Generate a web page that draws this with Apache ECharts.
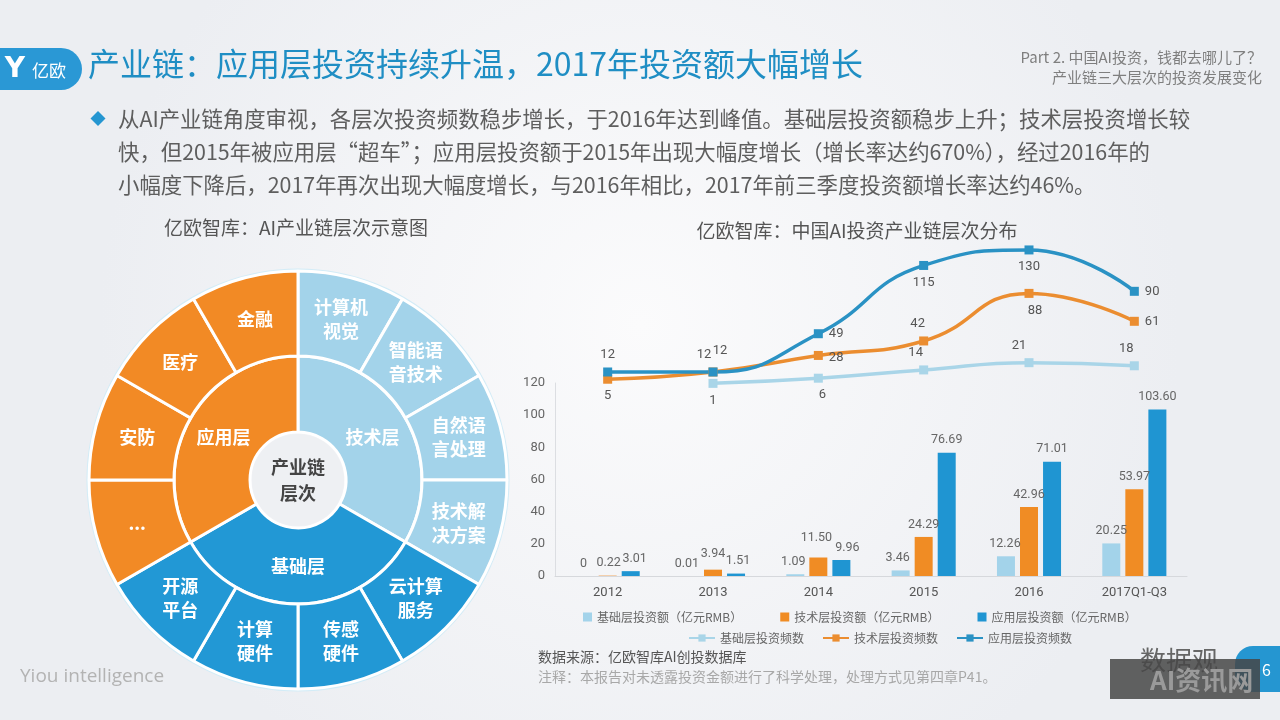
<!DOCTYPE html>
<html><head><meta charset="utf-8">
<script src="https://cdn.jsdelivr.net/npm/echarts@6/dist/echarts.min.js"></script>
<style>html,body{margin:0;padding:0;background:#f1f2f5;}#c{width:1280px;height:720px;}</style>
</head><body><div id="c"></div>
<script>
// ---------- data ----------
const years = ['2012', '2013', '2014', '2015', '2016', '2017Q1-Q3'];
const baseAmount = [0, 0.01, 1.09, 3.46, 12.26, 20.25];
const techAmount = [0.22, 3.94, 11.50, 24.29, 42.96, 53.97];
const appAmount = [3.01, 1.51, 9.96, 76.69, 71.01, 103.60];
const baseCount = [null, 1, 6, 14, 21, 18];
const techCount = [5, 12, 28, 42, 88, 61];
const appCount = [12, 12, 49, 115, 130, 90];
const yTickStep = 20;
const yTickMax = 120;

const barNames = ['基础层投资额（亿元RMB）', '技术层投资额（亿元RMB）', '应用层投资额（亿元RMB）'];
const lineNames = ['基础层投资频数', '技术层投资频数', '应用层投资频数'];

const layerNames = ['技术层', '基础层', '应用层'];
const techItems = ['计算机\n视觉', '智能语\n音技术', '自然语\n言处理', '技术解\n决方案'];
const baseItems = ['云计算\n服务', '传感\n硬件', '计算\n硬件', '开源\n平台'];
const appItems = ['...', '安防', '医疗', '金融'];

// ---------- styles ----------
const F = "'Noto Sans CJK SC','Noto Sans',sans-serif";
const FN = "Roboto,'Noto Sans',sans-serif";
const C_LIGHT = '#a3d3ea', C_ORANGE = '#f28a25', C_BLUE = '#2298d5';
const C_LINE_APP = '#2a92c4', C_LINE_TECH = '#eb8d30', C_LINE_BASE = '#a9d5e8';

const layerColor = [C_LIGHT, C_BLUE, C_ORANGE];
const layerItems = [techItems, baseItems, appItems];
const sunData = layerNames.map((n, i) => ({
  name: n,
  itemStyle: { color: layerColor[i] },
  children: layerItems[i].map(c => ({ name: c, value: 1, itemStyle: { color: layerColor[i] } }))
}));

// label placement styles for line points
const appPos = ['top', 'top', 'right', 'bottom', 'bottom', 'right'];
const appOff = [[0, 0], [-9, 0], [0, 0], [0, 0], [0, 0], [0, 0]];
const techPos = ['bottom', 'top', 'right', 'top', 'bottom', 'right'];
const techOff = [[0, 0], [7, -4], [0, 2], [-6, 0], [6, 0], [0, 0]];
const basePos = ['bottom', 'bottom', 'bottom', 'top', 'top', 'top'];
const baseOff = [[0, 0], [0, 0], [4, 0], [-8, 0], [-10, 0], [-8, 0]];
// label nudges for bars
const baseBarOff = [[-1, 0], [-3, 0], [-2, 0], [-3, 0], [-1, 0], [0, 0]];
const techBarOff = [[1, 0], [0, -3], [-2, -7], [0, 0], [0, 0], [0, 0]];
const appBarOff = [[4, 0], [2, 0], [6, 0], [0, 0], [0, 0], [0, 0]];

function lineData(vals, pos, off) {
  return vals.map((v, i) => v == null ? '-' : ({ value: v, label: { position: pos[i], offset: off[i] } }));
}
function barSeries(name, vals, color, off) {
  return {
    type: 'bar', name, xAxisIndex: 0, yAxisIndex: 0,
    data: vals.map((v, i) => ({ value: v, label: { offset: off[i] } })),
    barWidth: 18, barGap: '28%',
    itemStyle: { color },
    label: { show: true, position: 'top', distance: 6, color: '#666', fontSize: 12.5, fontFamily: FN,
      formatter: p => p.value === 0 ? '0' : p.value.toFixed(2) }
  };
}
function lineSeries(name, vals, color, pos, off) {
  return {
    type: 'line', name, data: lineData(vals, pos, off), xAxisIndex: 1, yAxisIndex: 1,
    smooth: 0.5, symbol: 'rect', symbolSize: 9,
    lineStyle: { color, width: 3.5 }, itemStyle: { color },
    label: { show: true, color: '#555', fontSize: 13, fontFamily: FN, distance: 6 }
  };
}

const bodyLines = [
  '从AI产业链角度审视，各层次投资频数稳步增长，于2016年达到峰值。基础层投资额稳步上升；技术层投资增长较',
  '快，但2015年被应用层“超车”；应用层投资额于2015年出现大幅度增长（增长率达约670%），经过2016年的',
  '小幅度下降后，2017年再次出现大幅度增长，与2016年相比，2017年前三季度投资额增长率达约46%。'
];

const graphics = [
  // logo pill
  { type: 'rect', shape: { x: -30, y: 48, width: 112, height: 42, r: 21 }, style: { fill: '#2a98d5' } },
  { type: 'text', x: 15, y: 70, style: { text: 'Y', fill: '#fff', font: "bold 28px 'DejaVu Sans'", align: 'center', verticalAlign: 'middle' } },
  { type: 'text', x: 32, y: 71, style: { text: '亿欧', fill: '#fff', font: '17px ' + F, verticalAlign: 'middle' } },
  // title
  { type: 'text', x: 88, y: 64, style: { text: '产业链：应用层投资持续升温，2017年投资额大幅增长', fill: '#1f8ec4', font: '32px ' + F, verticalAlign: 'middle' } },
  { type: 'text', x: 1262, y: 57, style: { text: 'Part 2. 中国AI投资，钱都去哪儿了？', fill: '#7f7f7f', font: '15px ' + F, align: 'right', verticalAlign: 'middle' } },
  { type: 'text', x: 1262, y: 77, style: { text: '产业链三大层次的投资发展变化', fill: '#7f7f7f', font: '15px ' + F, align: 'right', verticalAlign: 'middle' } },
  // bullet
  { type: 'polygon', shape: { points: [[98, 111], [105.5, 118.5], [98, 126], [90.5, 118.5]] }, style: { fill: '#2596d1' } },
  ...bodyLines.map((t, i) => ({ type: 'text', x: 118, y: 119 + i * 33, style: { text: t, fill: '#5e5e5e', font: '21.4px ' + F, verticalAlign: 'middle' } })),
  // subtitles
  { type: 'text', x: 296, y: 228, style: { text: '亿欧智库：AI产业链层次示意图', fill: '#555', font: '19px ' + F, align: 'center', verticalAlign: 'middle' } },
  { type: 'text', x: 857, y: 231, style: { text: '亿欧智库：中国AI投资产业链层次分布', fill: '#555', font: '19px ' + F, align: 'center', verticalAlign: 'middle' } },
  // sources
  { type: 'text', x: 538, y: 657, style: { text: '数据来源：亿欧智库AI创投数据库', fill: '#555', font: '14px ' + F, verticalAlign: 'middle' } },
  { type: 'text', x: 538, y: 677, style: { text: '注释：本报告对未透露投资金额进行了科学处理，处理方式见第四章P41。', fill: '#a8a8a8', font: '14px ' + F, verticalAlign: 'middle' } },
  { type: 'text', x: 20, y: 677, style: { text: 'Yiou intelligence', fill: '#b3b3b3', font: "19px 'Open Sans'", verticalAlign: 'middle' } },
  // outer glow ring of sunburst
  { type: 'circle', shape: { cx: 298, cy: 480, r: 210 }, style: { fill: 'none', stroke: '#d3ecf7', lineWidth: 3 }, z: -1 },
  // page tab and watermark
  { type: 'rect', shape: { x: 1235, y: 646, width: 70, height: 46, r: 18 }, style: { fill: '#2596d1' } },
  { type: 'text', x: 1262, y: 670, style: { text: '6', fill: '#fff', font: '16px ' + F, verticalAlign: 'middle' } },
  { type: 'text', x: 1140, y: 660, style: { text: '数据观', fill: '#666', font: '26px ' + F, verticalAlign: 'middle' } },
  { type: 'rect', shape: { x: 1110, y: 659, width: 150, height: 40 }, style: { fill: 'rgba(70,70,70,0.85)' } },
  { type: 'text', x: 1150, y: 680, style: { text: 'AI资讯网', fill: '#9a9a9a', font: 'bold 26px ' + F, verticalAlign: 'middle' } }
];

const option = {
  backgroundColor: { type: 'radial', x: 0.5, y: 0.45, r: 0.75,
    colorStops: [{ offset: 0, color: '#fbfbfc' }, { offset: 1, color: '#eceef2' }] },
  animation: false,
  textStyle: { fontFamily: F },
  graphic: graphics,
  legend: [
    { data: barNames, left: 578, top: 606, icon: 'rect', itemWidth: 9, itemHeight: 9, itemGap: 38,
      textStyle: { color: '#666', fontSize: 12, fontFamily: F } },
    { data: lineNames, left: 683, top: 627, itemWidth: 26, itemHeight: 9, itemGap: 18,
      textStyle: { color: '#666', fontSize: 12, fontFamily: F } }
  ],
  grid: [
    { left: 555, top: 383, width: 632, height: 193 },
    { left: 555, top: 239.6, width: 632, height: 144.8 }
  ],
  xAxis: [
    { type: 'category', data: years, gridIndex: 0,
      axisLine: { lineStyle: { color: '#d6d8dc' } }, axisTick: { show: false },
      axisLabel: { color: '#555', fontSize: 13, margin: 10, fontFamily: FN } },
    { type: 'category', data: years, gridIndex: 1, show: false }
  ],
  yAxis: [
    { type: 'value', gridIndex: 0, min: 0, max: yTickMax, interval: yTickStep,
      axisLine: { show: true, lineStyle: { color: '#dcdee2' } }, axisTick: { show: false },
      splitLine: { show: false }, axisLabel: { color: '#666', fontSize: 13, margin: 10, fontFamily: FN } },
    { type: 'value', gridIndex: 1, min: 0, max: 140, show: false, splitLine: { show: false } }
  ],
  series: [
    {
      type: 'sunburst', center: [298, 480], radius: [48, 209], startAngle: 90,
      nodeClick: false, data: sunData,
      emphasis: { focus: 'none' },
      itemStyle: { borderColor: '#fff', borderWidth: 3 },
      label: { rotate: 0, color: '#fff', fontSize: 18, fontWeight: 'bold', lineHeight: 24, fontFamily: F },
      levels: [{}, { r0: 48, r: 124 }, { r0: 124, r: 209 }]
    },
    {
      type: 'pie', center: [298, 480], radius: [0, 46], silent: true,
      data: [{ value: 1, name: '产业链\n层次' }],
      itemStyle: { color: '#eef0f3' },
      label: { position: 'center', color: '#444', fontSize: 18, fontWeight: 'bold', lineHeight: 26, fontFamily: F },
      labelLine: { show: false }
    },
    barSeries(barNames[0], baseAmount, C_LIGHT, baseBarOff),
    barSeries(barNames[1], techAmount, '#f08c24', techBarOff),
    barSeries(barNames[2], appAmount, '#1f95d2', appBarOff),
    lineSeries(lineNames[0], baseCount, C_LINE_BASE, basePos, baseOff),
    lineSeries(lineNames[1], techCount, C_LINE_TECH, techPos, techOff),
    lineSeries(lineNames[2], appCount, C_LINE_APP, appPos, appOff)
  ]
};
const chart = echarts.init(document.getElementById('c'));
chart.setOption(option);
</script>
</body></html>
